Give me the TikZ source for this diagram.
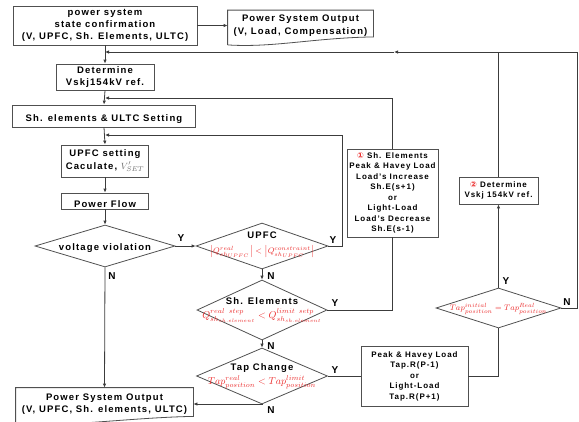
\documentclass[tikz,border=0pt]{standalone}
\usepackage{fontspec}
\setmainfont{Liberation Sans}[LetterSpace=12]
\newfontfamily\circfont{DejaVu Sans}
\usetikzlibrary{arrows.meta,shapes.geometric}
\definecolor{fred}{RGB}{235,45,45}
\definecolor{linegray}{RGB}{60,60,60}
\definecolor{boxgray}{RGB}{80,80,80}
\definecolor{vgray}{RGB}{110,110,110}

\begin{document}
\begin{tikzpicture}[
  x=1pt, y=-1pt,
  box/.style={
    rectangle,
    draw=boxgray,
    line width=0.8pt,
    align=center,
    inner xsep=1pt,
    inner ysep=0.5pt,
    execute at begin node={\rule{0pt}{12.5pt}},
    font=\bfseries\fontsize{9.5}{12.5}\selectfont
  },
  smallbox/.style={
    box,
    execute at begin node={\rule{0pt}{9.5pt}},
    font=\bfseries\fontsize{8}{10.5}\selectfont
  },
  docbox/.style={
    box,
    draw=none
  },
  outline/.style={
    draw=boxgray,
    line width=0.8pt
  },
  decision/.style={
    diamond,
    draw=boxgray,
    line width=0.8pt,
    inner sep=0pt
  },
  dtext/.style={
    align=center,
    inner sep=0pt,
    font=\bfseries\fontsize{9.5}{13}\selectfont
  },
  line/.style={
    draw=linegray,
    line width=0.8pt
  },
  arrow/.style={
    line,
    -{Latex[length=4pt,width=3.5pt]}
  },
  yn/.style={
    inner sep=0pt,
    font=\bfseries\fontsize{10}{12}\selectfont
  }
]

\path[use as bounding box] (0,0) rectangle (579,421);

\node[box, minimum width=184pt, minimum height=39pt, font=\bfseries\fontsize{9.5}{12}\selectfont] (confirm) at (105,25.5)
  {power system\\state confirmation\\(V, UPFC, Sh. Elements, ULTC)};
\node[docbox, minimum width=145pt, minimum height=30pt] (sysout) at (300.5,25.5)
  {Power System Output\\(V, Load, Compensation)};
\node[box, minimum width=98pt, minimum height=26pt] (vref) at (105,77)
  {Determine\\Vskj154kV ref.};
\node[box, minimum width=183pt, minimum height=22pt] (setting) at (104,116)
  {Sh. elements \& ULTC Setting};
\node[box, minimum width=87pt, minimum height=32pt] (upfcset) at (105,161)
  {UPFC setting\\Caculate, {\color{vgray}$V_{SET}'$}};
\node[box, minimum width=87pt, minimum height=16pt] (flow) at (105,201) {Power Flow};

\node[decision, minimum width=140pt, minimum height=42pt] (viol) at (105,246) {};
\node[dtext] (violtxt) at (105,248) {voltage violation};
\node[decision, minimum width=132pt, minimum height=46pt] (upfc) at (262,246) {};
\node[dtext] (upfctxt) at (262,245)
  {UPFC\\[2pt]{\footnotesize\color{fred}$\bigl|Q^{real}_{sh_{UPFC}}\bigr|<\bigl|Q^{constraint}_{sh_{UPFC}}\bigr|$}};
\node[decision, minimum width=130pt, minimum height=60pt] (shel) at (262,310) {};
\node[dtext] (sheltxt) at (262,310)
  {Sh. Elements\\[1pt]{\normalsize\color{fred}$Q^{real\ step}_{sh_{sh.element}}<Q^{limit\ setp}_{sh_{sh.element}}$}};
\node[decision, minimum width=131pt, minimum height=56pt] (tapch) at (262,376) {};
\node[dtext] (tapchtxt) at (262,376)
  {Tap Change\\[1pt]{\normalsize\color{fred}$Tap^{real}_{position}<Tap^{limit}_{position}$}};

\node[smallbox, minimum width=107pt, minimum height=60pt] (tapset) at (414.5,376)
  {Peak \& Havey Load\\Tap.R(P-1)\\or\\Light-Load\\Tap.R(P+1)};
\node[decision, minimum width=125pt, minimum height=40pt] (tapeq) at (498.5,308) {};
\node[dtext] (tapeqtxt) at (498.5,309)
  {\footnotesize\color{fred}$Tap^{initial}_{position}=Tap^{Real}_{position}$};
\node[smallbox, minimum width=79pt, minimum height=27pt] (vref2) at (498.5,190.5)
  {{\circfont\textcolor{fred}{②}} Determine\\Vskj 154kV ref.};
\node[smallbox, minimum width=91pt, minimum height=88pt] (shstep) at (392.5,193)
  {{\circfont\textcolor{fred}{①}} Sh. Elements\\Peak \& Havey Load\\Load's Increase\\Sh.E(s+1)\\or\\Light-Load\\Load's Decrease\\Sh.E(s-1)};
\node[docbox, minimum width=177pt, minimum height=32pt] (final) at (104.5,404)
  {Power System Output\\(V, UPFC, Sh. elements, ULTC)};

\draw[outline] ([yshift=-4pt]sysout.south west) -- (sysout.north west) -- (sysout.north east)
  -- ([yshift=4pt]sysout.south east) .. controls +(-60,1) and +(45,3) .. ([yshift=-4pt]sysout.south west);
\draw[outline] ([yshift=-4pt]final.south west) -- (final.north west) -- (final.north east)
  -- ([yshift=4pt]final.south east) .. controls +(-60,1) and +(45,3) .. ([yshift=-4pt]final.south west);

\coordinate (fb1) at (105,52);
\coordinate (fb1r) at (577,52);
\coordinate (fbmid) at (394,52);
\coordinate (fb2) at (105,98);
\coordinate (fb3) at (105,135);
\coordinate (fb3r) at (342,135);

\draw[arrow] (confirm.east) -- (sysout.west);
\draw[arrow] (confirm.south) -- (vref.north);
\draw[line] (tapeq.east) -| (fb1r) -- (vref2.north |- fb1r);
\draw[arrow] (vref2.north) |- (fbmid);
\draw[arrow] (fbmid) -- (fb1);
\draw[arrow] (vref.south) -- (setting.north);
\draw[arrow] (shstep.north) |- (fb2);
\draw[arrow] (setting.south) -- (upfcset.north);
\draw[arrow] (upfc.east) -| (fb3r) -- (fb3);
\draw[arrow] (upfcset.south) -- (flow.north);
\draw[arrow] (flow.south) -- (viol.north);
\draw[arrow] (viol.east) -- (upfc.west);
\draw[arrow] (viol.south) -- (final.north);
\draw[arrow] (upfc.south) -- (shel.north);
\draw[line] (shel.east) -| (shstep.south);
\draw[arrow] (shel.south) -- (tapch.north);
\draw[line] (tapch.east) -- (tapset.west);
\draw[line] (tapset.east) -| (tapeq.south);
\draw[arrow] (tapeq.north) -- (vref2.south);
\draw[arrow] (tapch.south) |- (final.east);

\node[yn] (yviol) at (181,238) {Y};
\node[yn] (nviol) at (112,276) {N};
\node[yn] (yupfc) at (333,240) {Y};
\node[yn] (nupfc) at (271,276) {N};
\node[yn] (yshel) at (335,303) {Y};
\node[yn] (nshel) at (271,346) {N};
\node[yn] (ytap) at (335,370) {Y};
\node[yn] (ntap) at (271,410) {N};
\node[yn] (ytapeq) at (506,281) {Y};
\node[yn] (ntapeq) at (567,302) {N};

\end{tikzpicture}
\end{document}
